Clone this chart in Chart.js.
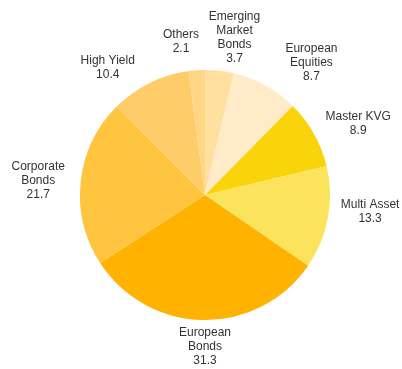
<!DOCTYPE html>
<html>
<head>
<meta charset="utf-8">
<script src="https://cdn.jsdelivr.net/npm/chart.js@4/dist/chart.umd.min.js"></script>
<style>
html,body{margin:0;padding:0;background:#fff;}
#wrap{width:402px;height:369px;position:relative;}
</style>
</head>
<body>
<div id="wrap"><canvas id="c" width="402" height="369"></canvas></div>
<script>
// ---- data ----
const categories = [
  ["Emerging", "Market", "Bonds"],
  ["European", "Equities"],
  ["Master KVG"],
  ["Multi Asset"],
  ["European", "Bonds"],
  ["Corporate", "Bonds"],
  ["High Yield"],
  ["Others"]
];
const values = [3.7, 8.7, 8.9, 13.3, 31.3, 21.7, 10.4, 2.1];
const valueLabels = ["3.7", "8.7", "8.9", "13.3", "31.3", "21.7", "10.4", "2.1"];
const sliceColors = ["#FFE09E", "#FFEBC7", "#F9D40A", "#FCE35C", "#FFB300", "#FFC53F", "#FECD6A", "#FFD683"];

// ---- layout (label nudges, px) ----
const labelNudgeX = [11, 29, 8, 4.5, 2, -7, -26, -14];
const labelNudgeY = [4, 3, 1.5, -10, -3, 2, 5, -6];

const labelPlugin = {
  id: 'outerLabels',
  afterDatasetsDraw(chart) {
    const ctx = chart.ctx;
    const meta = chart.getDatasetMeta(0);
    ctx.save();
    ctx.font = '12px "Liberation Sans", Arial, sans-serif';
    ctx.fillStyle = '#333333';
    ctx.textAlign = 'center';
    ctx.textBaseline = 'middle';
    const lh = 14;
    meta.data.forEach((arc, i) => {
      const p = arc.getProps(['x', 'y', 'startAngle', 'endAngle', 'outerRadius'], true);
      const mid = (p.startAngle + p.endAngle) / 2;
      const lines = categories[i].concat([valueLabels[i]]);
      let w = 0;
      lines.forEach(l => { w = Math.max(w, ctx.measureText(l).width); });
      const h = lines.length * lh;
      const r = p.outerRadius + 9;
      const ax = p.x + Math.cos(mid) * r;
      const ay = p.y + Math.sin(mid) * r;
      const cx = ax + Math.cos(mid) * w / 2 + labelNudgeX[i];
      const cy = ay + Math.sin(mid) * h / 2 + labelNudgeY[i];
      lines.forEach((l, k) => {
        ctx.fillText(l, cx, cy - h / 2 + lh / 2 + k * lh);
      });
    });
    ctx.restore();
  }
};

new Chart(document.getElementById('c'), {
  type: 'pie',
  data: {
    labels: categories.map(c => c.join(' ')),
    datasets: [{
      data: values,
      backgroundColor: sliceColors,
      borderWidth: 0
    }]
  },
  options: {
    responsive: false,
    animation: false,
    layout: { padding: { left: 80, right: 72, top: 70, bottom: 49 } },
    plugins: {
      legend: { display: false },
      tooltip: { enabled: false }
    }
  },
  plugins: [labelPlugin]
});
</script>
</body>
</html>
